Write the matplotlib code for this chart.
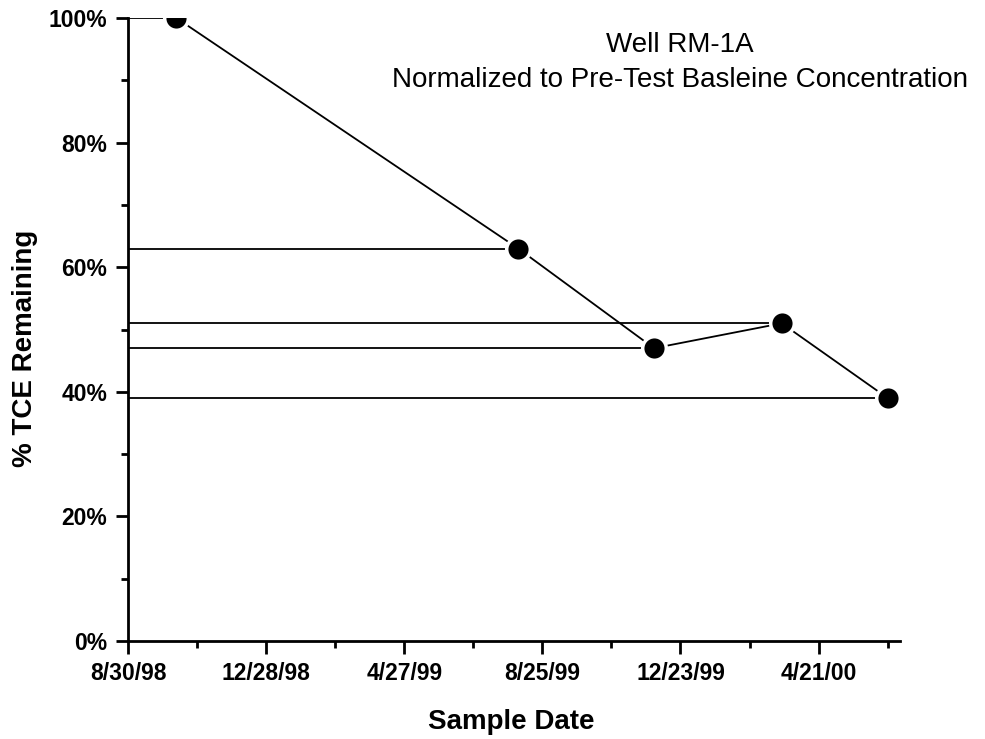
import datetime as dt
import matplotlib
matplotlib.use('Agg')
import matplotlib.pyplot as plt
import matplotlib.dates as mdates
from matplotlib.ticker import FixedLocator, FuncFormatter, MultipleLocator

plt.rcParams['font.family'] = ['Liberation Sans', 'DejaVu Sans']

# sample dates and % TCE remaining
sample_dates = [dt.date(1998, 10, 11), dt.date(1999, 8, 4), dt.date(1999, 11, 30),
                dt.date(2000, 3, 20), dt.date(2000, 6, 20)]
tce_remaining = [100, 63, 47, 51, 39]

start = dt.date(1998, 8, 30)
end = dt.date(2000, 7, 1)
major_dates = [start + dt.timedelta(days=120 * i) for i in range(6)]
minor_dates = [start + dt.timedelta(days=60 + 120 * i) for i in range(6)]

title_text = "Well RM-1A\nNormalized to Pre-Test Basleine Concentration"

fig = plt.figure(figsize=(9.85, 7.39), dpi=100)
ax = fig.add_axes([0.130, 0.1326, 0.784, 0.843])

x = mdates.date2num(sample_dates)
xmin, xmax = mdates.date2num(start), mdates.date2num(end)

# horizontal drop lines from the y axis to each point
for xi, yi in zip(x, tce_remaining):
    ax.plot([xmin, xi], [yi, yi], color='black', lw=1.3, zorder=1)

ax.plot(x, tce_remaining, color='black', lw=1.3, marker='o', markersize=17,
        markerfacecolor='black', markeredgecolor='white', markeredgewidth=2.5, zorder=3)

ax.set_xlim(xmin, xmax)
ax.set_ylim(0, 100)

ax.xaxis.set_major_locator(FixedLocator(mdates.date2num(major_dates)))
ax.xaxis.set_minor_locator(FixedLocator(mdates.date2num(minor_dates)))
ax.xaxis.set_major_formatter(FuncFormatter(
    lambda v, p: "{d.month}/{d.day}/{y:02d}".format(d=mdates.num2date(v), y=mdates.num2date(v).year % 100)))
ax.yaxis.set_major_locator(MultipleLocator(20))
ax.yaxis.set_minor_locator(MultipleLocator(10))
ax.yaxis.set_major_formatter(FuncFormatter(lambda v, p: "%d%%" % v))

for s in ['top', 'right']:
    ax.spines[s].set_visible(False)
for s in ['left', 'bottom']:
    ax.spines[s].set_linewidth(2)

ax.tick_params(which='major', direction='out', length=9, width=2, labelsize=16.5, pad=6)
ax.tick_params(which='minor', direction='out', length=5, width=2)
for lbl in ax.get_xticklabels() + ax.get_yticklabels():
    lbl.set_fontweight('bold')

ax.set_xlabel('Sample Date', fontsize=20, fontweight='bold')
ax.set_ylabel('% TCE Remaining', fontsize=20, fontweight='bold')
ax.xaxis.set_label_coords(0.496, -0.109)
ax.yaxis.set_label_coords(-0.1166, 0.470)

ax.text(0.715, 0.977, title_text, transform=ax.transAxes, ha='center', va='top',
        fontsize=20, linespacing=1.45)

fig.savefig('out.png', dpi=100)
